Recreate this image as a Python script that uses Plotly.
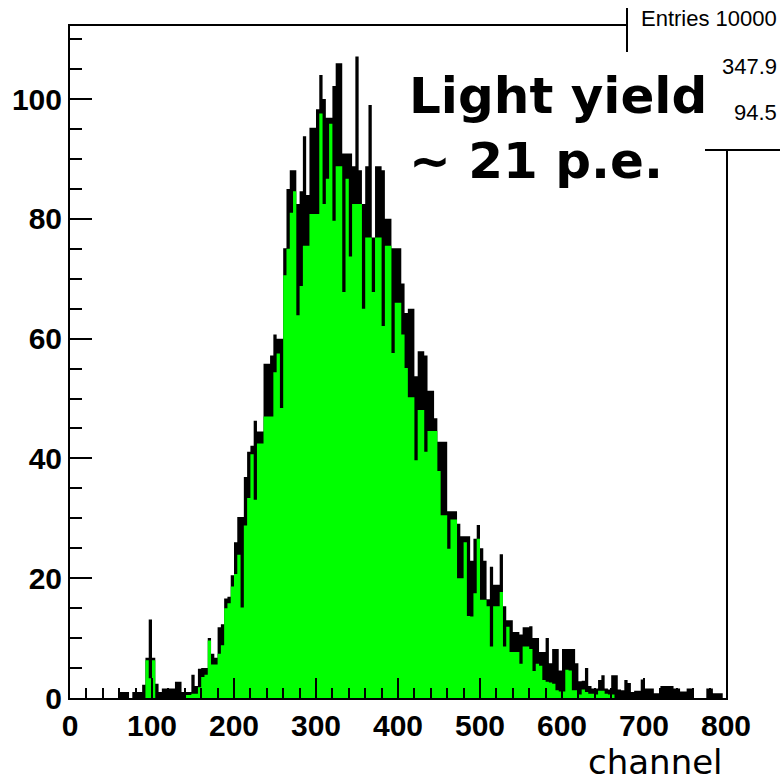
import plotly.graph_objects as go

# ---- data ----
bin_width = 4
bin_left = [i * bin_width for i in range(200)]

# visible top of the black outline per 4-channel bin
black_top = [
    0, 0, 0, 0, 0, 0, 0, 0, 0, 0,
    0, 0, 0, 0, 0, 1, 1, 1, 0, 1,
    1, 1, 2.2, 6.7, 13.1, 6.7, 2.4, 1, 1.6, 1.6,
    1.6, 1.6, 2.7, 2.7, 1, 1, 1, 3.9, 2, 4.9,
    5, 5, 10, 7.4, 6.7, 11.8, 12.3, 16.6, 16.9, 20.5,
    26, 30.2, 30.2, 36.9, 41.1, 42.1, 46.3, 44.5, 44.5, 55.8,
    55.8, 57.2, 60.7, 60, 60, 75.1, 85, 88.1, 88.1, 82.5,
    84.6, 93.8, 84, 95.2, 95.2, 98.3, 104, 100, 96.9, 96.9,
    102.2, 106, 106, 90.9, 90.9, 90.9, 88.8, 107.1, 88.1, 82.5,
    88.8, 99, 76.9, 88.8, 88.8, 88.1, 80, 80, 75.1, 75.1,
    75.1, 69.2, 64.3, 65, 65, 53.7, 57.9, 57.9, 57.2, 51.3,
    51.3, 46.7, 42.8, 42.8, 42.8, 31.2, 31.2, 31.2, 29.1, 27,
    27, 27, 22.9, 26.6, 28.9, 25, 22.9, 16.5, 21.9, 18.9,
    18.9, 24, 15.3, 13, 13, 11, 11, 10.6, 11.8, 11.8,
    12, 10, 10, 7.7, 7.7, 10, 5.8, 8.2, 8.2, 4.6,
    8.2, 8.2, 8.2, 8.2, 5.8, 2.8, 2.9, 5, 2, 1.6,
    1.6, 3, 3.8, 1.6, 1.4, 3.8, 3.8, 1.4, 1.3, 3,
    2.5, 1, 1.2, 1.2, 3.1, 1.6, 1.6, 1.6, 0.8, 0.8,
    2, 2, 2, 2, 1.6, 1.6, 1.1, 1.1, 1.6, 1.6,
    0, 0, 0, 0, 1.6, 1.6, 0.8, 0.8, 0.8, 0,
]

# visible top of the green fill per 4-channel bin
green_top = [
    0, 0, 0, 0, 0, 0, 0, 0, 0, 0,
    0, 0, 0, 0, 0, 0, 0, 0, 0, 0,
    0, 0, 0, 6.3, 3.3, 6.3, 0, 0, 0, 0,
    0, 0, 0, 0, 0, 0.5, 0.5, 0.7, 0.7, 1.8,
    3.5, 3.9, 9.6, 5.6, 5.6, 7.4, 8.8, 15, 15.8, 18.6,
    20.7, 23.9, 15.1, 28.8, 33.4, 40.7, 33.1, 42.5, 42.5, 47,
    47, 47, 54.4, 57.5, 48.4, 70.6, 75, 81, 84.6, 63.9,
    68.8, 75.5, 75.5, 80.8, 80.8, 80.8, 97.6, 82.5, 86.7, 95.9,
    79.7, 88.8, 88.8, 67.8, 86.7, 73.7, 82.5, 82.5, 82.5, 65,
    76.9, 76.9, 67.8, 76.9, 76.9, 62.1, 75.5, 75.5, 57.6, 66,
    66, 60.7, 55.1, 50.2, 50.2, 39.7, 48.1, 48.1, 41.1, 44.6,
    44.6, 44.6, 37.9, 30.5, 30.5, 24.9, 29.8, 29.8, 20, 20,
    26, 13.7, 13.6, 17.5, 26.6, 16.4, 16.4, 15.3, 8.6, 15.3,
    15.3, 17.7, 8.6, 11.9, 7.7, 7.7, 7.7, 5.7, 8.6, 8.6,
    8.2, 4.5, 5.7, 5.4, 3, 2.7, 2.6, 2.4, 1.3, 1.1,
    1.1, 4.7, 4.6, 1.3, 1.3, 0.6, 1.4, 1, 0.7, 0.7,
    0.6, 1.2, 1.2, 0.7, 0.6, 0.6, 0, 0, 0, 0,
    0, 0, 0, 0, 0, 0, 0, 0, 0, 0,
    0, 0, 0, 0, 0, 0, 0, 0, 0, 0,
    0, 0, 0, 0, 0, 0, 0, 0, 0, 0,
]

x_ticks = [0, 100, 200, 300, 400, 500, 600, 700, 800]
y_ticks = [0, 20, 40, 60, 80, 100]
x_title = "channel"
label_text = "Light yield<br>~ 21 p.e."
stats_entries = "Entries 10000"
stats_mean = "347.9"
stats_rms = "94.5"

# ---- geometry ----
W, H = 780, 781
L, R, T, B = 70, 54, 26, 83
PW, PH = W - L - R, H - T - B


def px(x):
    return (x - L) / PW


def py(y):
    return (H - B - y) / PH


# black outline shows at least a thin line over the green fill
black_disp = [max(b, g + 0.35) if g > 0 else b for b, g in zip(black_top, green_top)]

xs = bin_left + [bin_left[-1] + bin_width]

fig = go.Figure()
fig.add_trace(go.Scatter(
    x=xs, y=black_disp + [black_disp[-1]], mode="lines", line=dict(shape="hv", width=0, color="black"),
    fill="tozeroy", fillcolor="black", hoverinfo="skip", showlegend=False))
fig.add_trace(go.Scatter(
    x=xs, y=green_top + [green_top[-1]], mode="lines", line=dict(shape="hv", width=0, color="#00ff00"),
    fill="tozeroy", fillcolor="#00ff00", hoverinfo="skip", showlegend=False))

tickfont = dict(family="Liberation Sans, Arial", size=30, color="black", weight="bold")

fig.update_xaxes(
    range=[0, 800], tickvals=x_ticks, ticktext=[str(v) for v in x_ticks],
    ticks="inside", ticklen=20, tickwidth=2, tickcolor="black",
    minor=dict(dtick=20, tick0=0, ticks="inside", ticklen=10, tickwidth=2, tickcolor="black"),
    showline=True, linecolor="black", linewidth=2, mirror=True,
    showgrid=False, zeroline=False, tickfont=tickfont)
fig.update_yaxes(
    range=[0, 112.2], tickvals=y_ticks, ticktext=[str(v) for v in y_ticks],
    ticks="inside", ticklen=22, tickwidth=2, tickcolor="black",
    minor=dict(dtick=5, tick0=0, ticks="inside", ticklen=12, tickwidth=2, tickcolor="black"),
    showline=True, linecolor="black", linewidth=2, mirror=True,
    showgrid=False, zeroline=False, tickfont=tickfont)

shapes = [
    # stats box
    dict(type="rect", xref="paper", yref="paper", x0=px(627), x1=px(790), y0=py(150), y1=py(-10),
         fillcolor="white", line=dict(width=0), layer="above"),
    dict(type="line", xref="paper", yref="paper", x0=px(627), x1=px(627), y0=py(150), y1=py(8),
         line=dict(color="black", width=2), layer="above"),
    dict(type="line", xref="paper", yref="paper", x0=px(627), x1=px(790), y0=py(150), y1=py(150),
         line=dict(color="black", width=2), layer="above"),
    # white label box
    dict(type="rect", xref="paper", yref="paper", x0=px(400), x1=px(705), y0=py(210), y1=py(52),
         fillcolor="white", line=dict(width=0), layer="above"),
]

small = dict(family="Liberation Sans, Arial", size=22, color="black")
annotations = [
    dict(text=stats_entries, x=px(779), y=py(19), xref="paper", yref="paper", xanchor="right", yanchor="middle",
         showarrow=False, font=small),
    dict(text=stats_mean, x=px(779), y=py(66), xref="paper", yref="paper", xanchor="right", yanchor="middle",
         showarrow=False, font=small),
    dict(text=stats_rms, x=px(779), y=py(112), xref="paper", yref="paper", xanchor="right", yanchor="middle",
         showarrow=False, font=small),
    dict(text=label_text, x=px(407), y=py(65), xref="paper", yref="paper", xanchor="left", yanchor="top",
         align="left", showarrow=False,
         font=dict(family="DejaVu Sans", size=50, color="black", weight="bold")),
    dict(text=x_title, x=px(725), y=py(740), xref="paper", yref="paper", xanchor="right", yanchor="top",
         showarrow=False, font=dict(family="DejaVu Sans", size=34, color="black")),
]

fig.update_layout(
    width=W, height=H, margin=dict(l=L, r=R, t=T, b=B, pad=0),
    paper_bgcolor="white", plot_bgcolor="white",
    shapes=shapes, annotations=annotations, showlegend=False)

fig.write_html("out.html")
